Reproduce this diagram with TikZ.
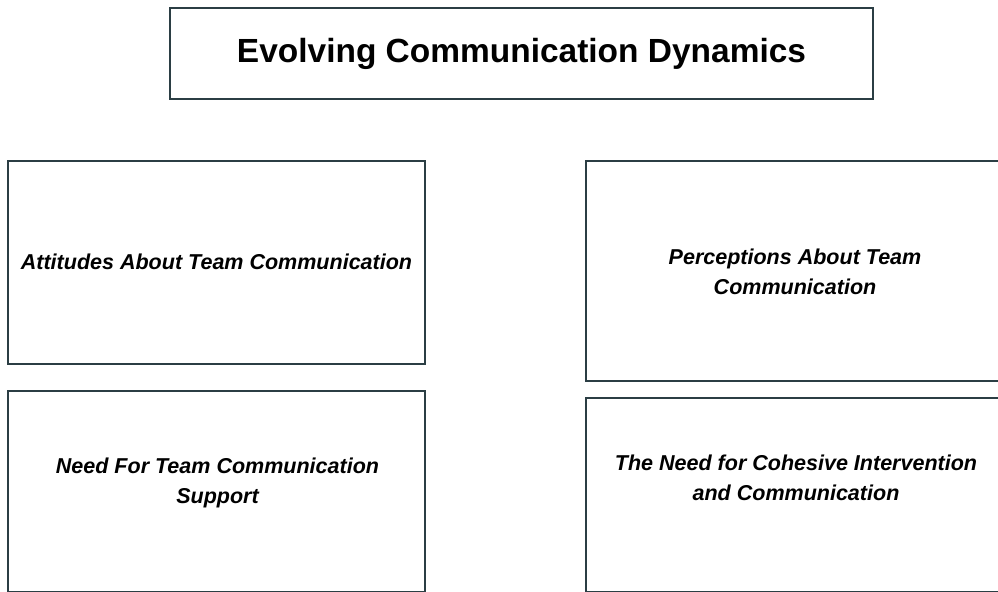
\documentclass[tikz,border=0pt]{standalone}
\usepackage{fontspec}
\setmainfont{Liberation Sans}
\definecolor{edge}{HTML}{2B3E44}
\usetikzlibrary{positioning}

\begin{document}
\begin{tikzpicture}[x=0.025cm, y=-0.025cm,
  box/.style={rectangle, draw=edge, line width=1.2pt, fill=white, inner sep=0pt},
  hd/.style={font=\fontsize{23.8}{28}\selectfont\bfseries},
  lbl/.style={align=center, font=\fontsize{15.3}{21.3}\selectfont\bfseries\itshape},
]
\useasboundingbox (0,0) rectangle (998,591);
% heading
\node[box, minimum width=17.575cm, minimum height=2.275cm, hd] (head) at (521.5,53.5) {Evolving Communication Dynamics};
% four theme boxes
\node[box, minimum width=10.425cm, minimum height=5.075cm] (att) at (216.5,262.5) {};
\node[box, minimum width=10.6cm, minimum height=5.5cm] (perc) at (798,271) {};
\node[box, minimum width=10.425cm, minimum height=5.025cm] (need) at (216.5,491.5) {};
\node[box, minimum width=10.6cm, minimum height=4.85cm] (coh) at (798,495) {};
% their texts
\node[lbl] (attT) at (216.5,262) {Attitudes About Team Communication};
\node[lbl] (percT) at (795,272) {Perceptions About Team\\Communication};
\node[lbl] (needT) at (217.5,483) {Need For Team Communication\\Support};
\node[lbl] (cohT) at (796,477.5) {The Need for Cohesive Intervention\\and Communication};
\end{tikzpicture}
\end{document}
